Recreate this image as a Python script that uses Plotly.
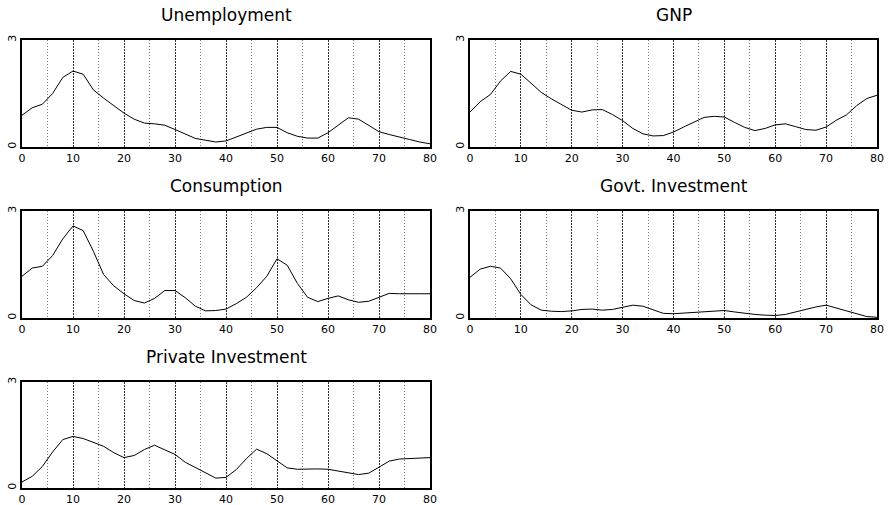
import plotly.graph_objects as go

x_vals = list(range(0, 81, 2))

unemployment = [0.89, 1.10, 1.20, 1.50, 1.95, 2.13, 2.04, 1.60, 1.37, 1.15,
                0.95, 0.78, 0.67, 0.65, 0.61, 0.49, 0.36, 0.24, 0.19, 0.14,
                0.17, 0.28, 0.40, 0.50, 0.55, 0.55, 0.40, 0.30, 0.25, 0.25,
                0.40, 0.60, 0.82, 0.78, 0.60, 0.43, 0.35, 0.29, 0.21, 0.14, 0.09]

gnp = [0.98, 1.27, 1.47, 1.85, 2.12, 2.04, 1.79, 1.53, 1.35, 1.19,
       1.03, 0.98, 1.04, 1.05, 0.91, 0.74, 0.52, 0.37, 0.31, 0.32,
       0.42, 0.56, 0.70, 0.83, 0.86, 0.84, 0.69, 0.55, 0.46, 0.52,
       0.62, 0.65, 0.57, 0.49, 0.47, 0.56, 0.75, 0.90, 1.16, 1.36, 1.45]

consumption = [1.17, 1.40, 1.45, 1.75, 2.22, 2.58, 2.45, 1.87, 1.22, 0.90,
               0.68, 0.49, 0.42, 0.55, 0.77, 0.77, 0.57, 0.33, 0.20, 0.21,
               0.25, 0.40, 0.58, 0.85, 1.17, 1.66, 1.48, 0.97, 0.58, 0.46,
               0.55, 0.62, 0.51, 0.44, 0.47, 0.59, 0.69, 0.68, 0.67, 0.68, 0.68]

govt_investment = [1.14, 1.37, 1.45, 1.40, 1.10, 0.66, 0.37, 0.22, 0.19, 0.18,
                   0.20, 0.24, 0.25, 0.22, 0.24, 0.30, 0.36, 0.33, 0.22, 0.13,
                   0.12, 0.14, 0.16, 0.18, 0.20, 0.21, 0.17, 0.13, 0.10, 0.08,
                   0.07, 0.10, 0.17, 0.25, 0.31, 0.36, 0.28, 0.19, 0.10, 0.04, 0.02]

private_investment = [0.17, 0.33, 0.61, 1.02, 1.37, 1.46, 1.40, 1.28, 1.18, 1.00,
                      0.86, 0.92, 1.09, 1.21, 1.07, 0.95, 0.73, 0.58, 0.42, 0.28,
                      0.30, 0.52, 0.83, 1.10, 0.97, 0.76, 0.57, 0.53, 0.54, 0.54,
                      0.53, 0.48, 0.42, 0.38, 0.42, 0.58, 0.76, 0.82, 0.83, 0.84, 0.86]

titles = ["Unemployment", "GNP", "Consumption", "Govt. Investment", "Private Investment"]
series = [unemployment, gnp, consumption, govt_investment, private_investment]
x_tick_vals = [0, 10, 20, 30, 40, 50, 60, 70, 80]
y_tick_vals = [0, 3]

W, H = 888, 505
# panel pixel boxes (left, right, top, bottom)
cols = [(22, 430), (470, 877)]
rows = [(40, 147), (211, 318), (382, 488)]
positions = [(0, 0), (0, 1), (1, 0), (1, 1), (2, 0)]

fig = go.Figure()
layout = dict(
    width=W, height=H,
    margin=dict(l=0, r=0, t=0, b=0, autoexpand=False),
    paper_bgcolor="white", plot_bgcolor="white",
    showlegend=False,
    annotations=[],
)

for i, (title, ys) in enumerate(zip(titles, series)):
    r, c = positions[i]
    x0, x1 = cols[c]
    y0, y1 = rows[r]
    n = i + 1
    xa = "xaxis" if n == 1 else f"xaxis{n}"
    ya = "yaxis" if n == 1 else f"yaxis{n}"
    fig.add_trace(go.Scatter(
        x=x_vals, y=ys, mode="lines",
        line=dict(color="black", width=1),
        xaxis="x" if n == 1 else f"x{n}",
        yaxis="y" if n == 1 else f"y{n}",
        hoverinfo="skip",
    ))
    layout[xa] = dict(
        domain=[x0 / W, x1 / W],
        anchor="y" if n == 1 else f"y{n}",
        range=[0, 80],
        tickvals=x_tick_vals,
        ticks="",
        ticklabelstandoff=0,
        automargin=False,
        showgrid=True, gridcolor="#333333", gridwidth=1, griddash="2px,1px",
        minor=dict(dtick=5, tick0=0, showgrid=True, gridcolor="#777777",
                   gridwidth=1, griddash="1px,2px"),
        showline=True, mirror=True, linecolor="black", linewidth=2,
        zeroline=False,
        tickfont=dict(family="DejaVu Sans", size=11, color="black"),
        fixedrange=True,
    )
    layout[ya] = dict(
        domain=[1 - y1 / H, 1 - y0 / H],
        anchor="x" if n == 1 else f"x{n}",
        range=[0, 3],
        tickvals=y_tick_vals,
        ticks="",
        tickangle=-90,
        automargin=False,
        showgrid=False,
        showline=True, mirror=True, linecolor="black", linewidth=2,
        zeroline=False,
        tickfont=dict(family="DejaVu Sans", size=11, color="black"),
        fixedrange=True,
    )
    layout["annotations"].append(dict(
        text=title, xref="paper", yref="paper",
        x=(x0 + x1) / 2 / W, y=1 - (y0 - 25) / H,
        xanchor="center", yanchor="middle", showarrow=False,
        font=dict(family="DejaVu Sans", size=17, color="black"),
    ))

fig.update_layout(**layout)
fig.write_html(
    "out.html",
    config={"displayModeBar": False},
    post_script="document.body.style.margin='0';document.body.style.overflow='hidden';",
)
